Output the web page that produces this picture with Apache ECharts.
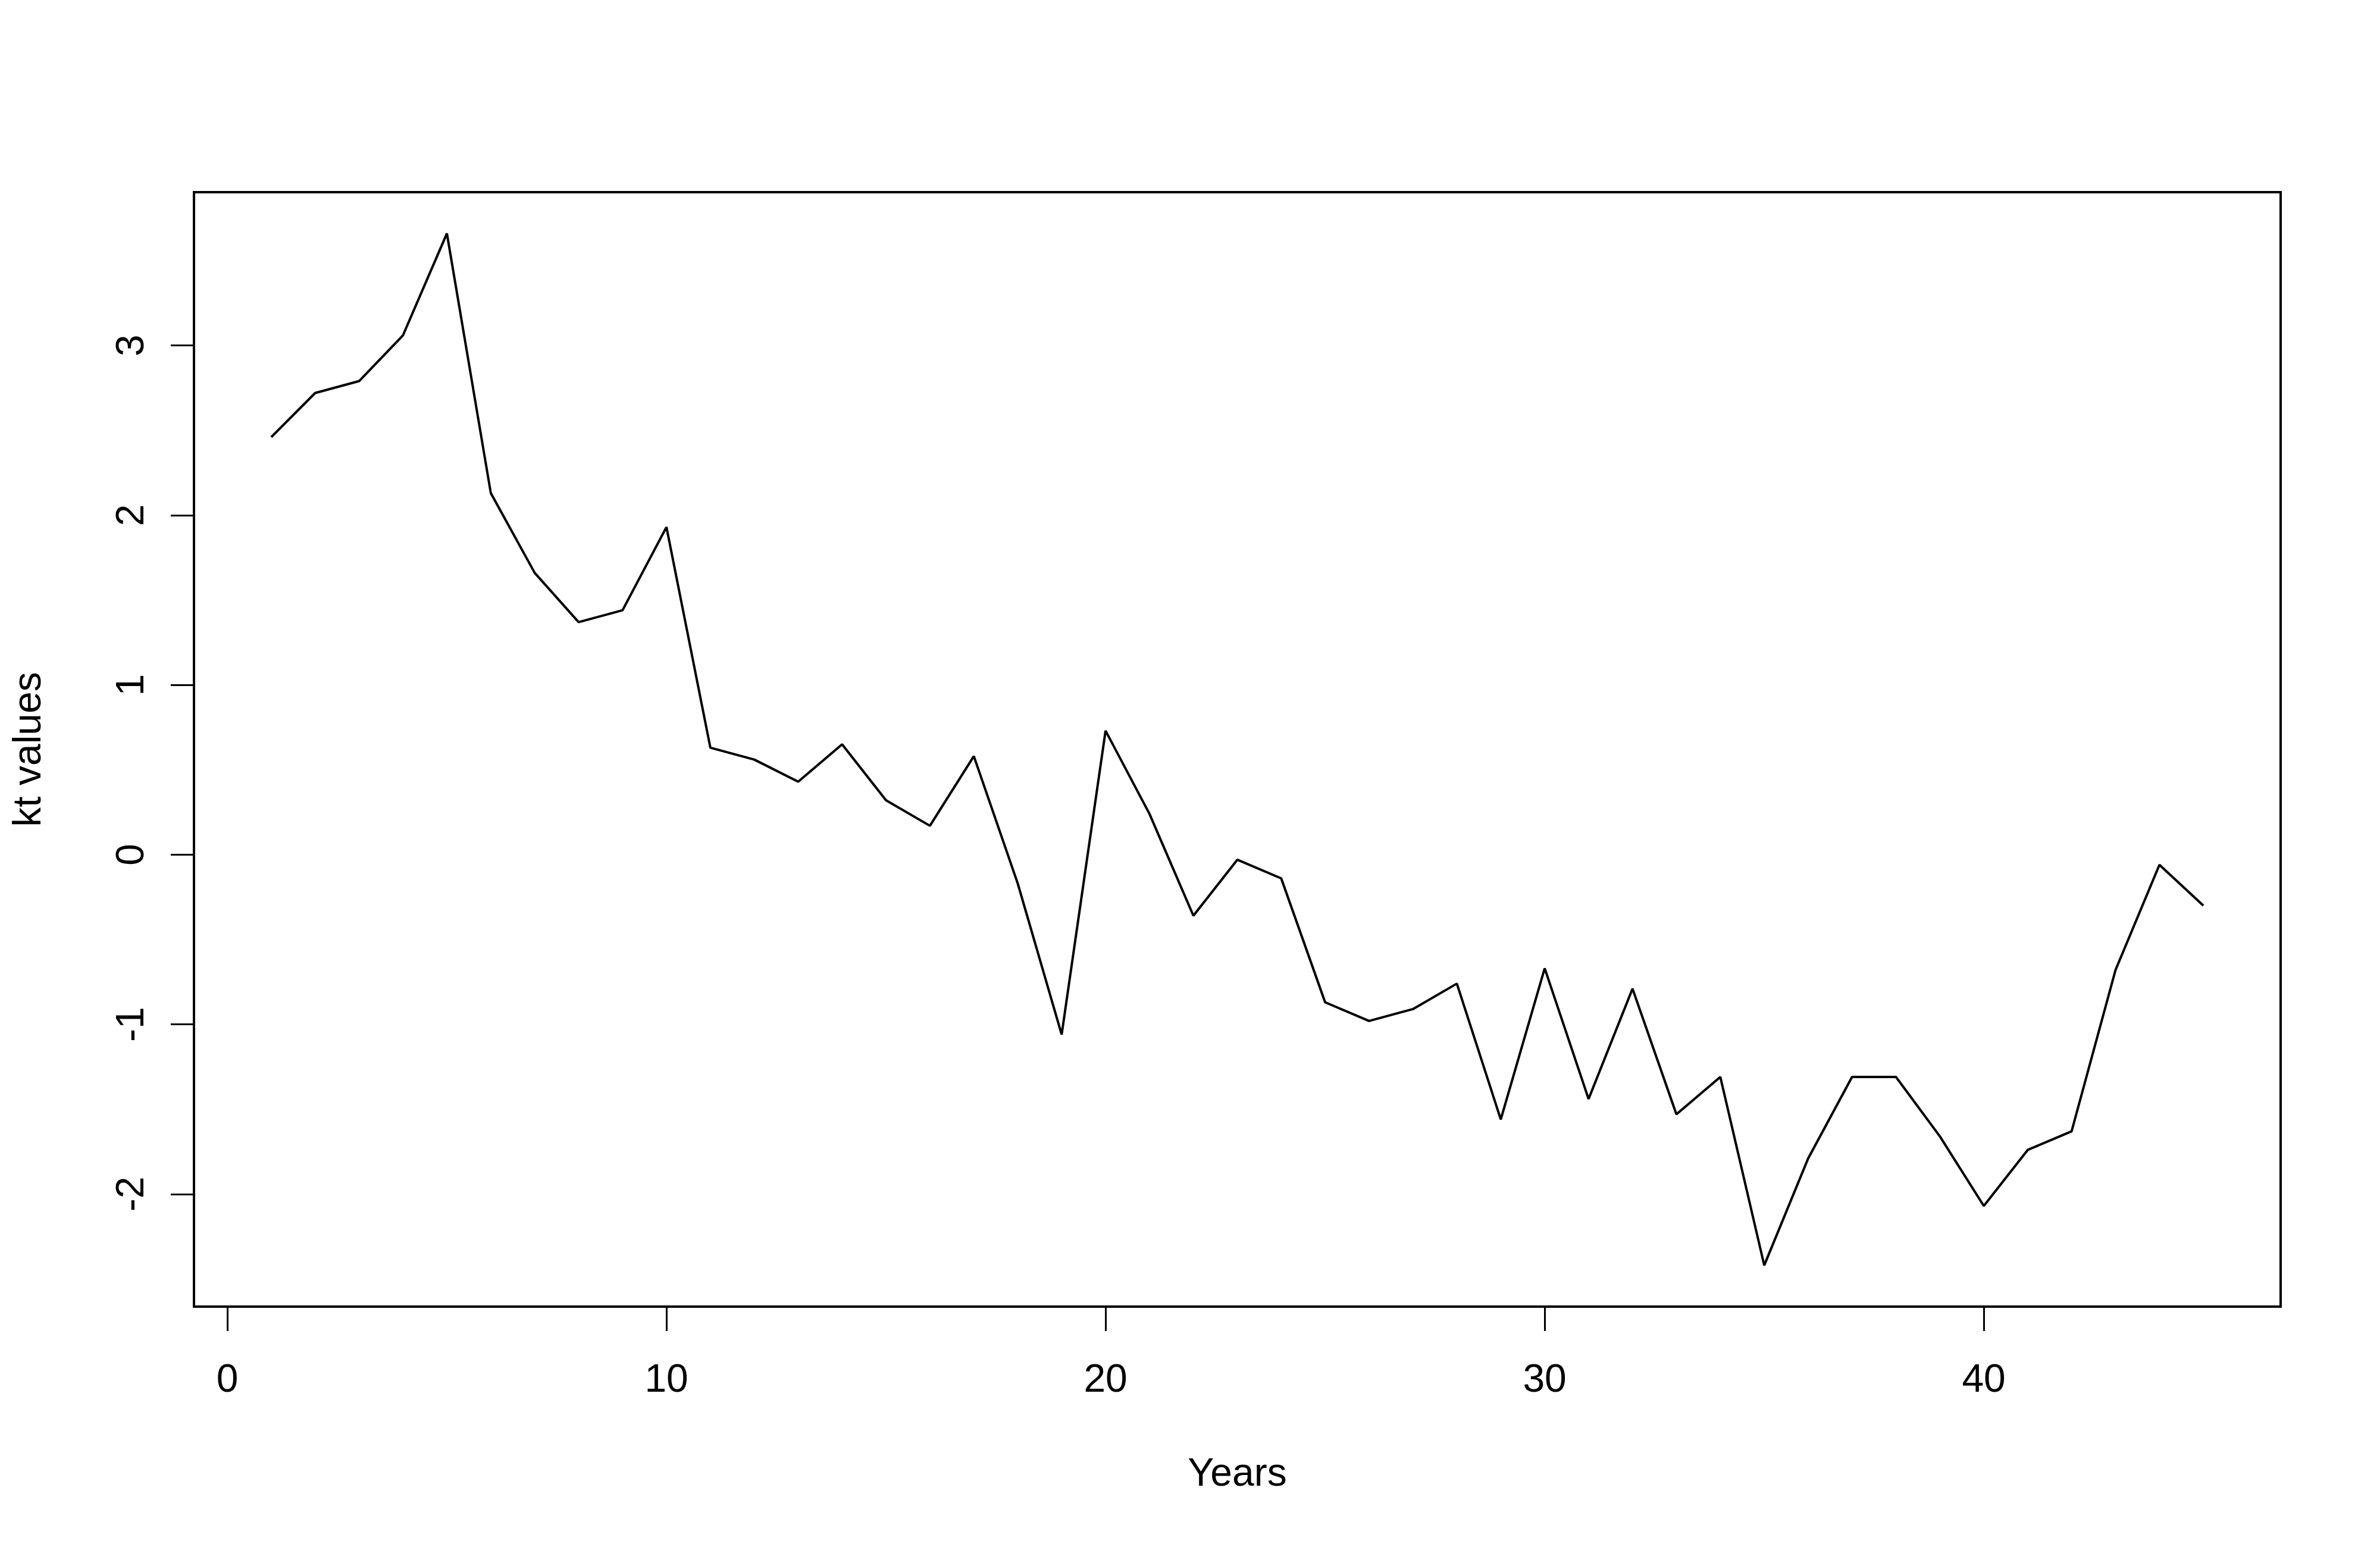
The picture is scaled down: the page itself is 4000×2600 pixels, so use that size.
<!DOCTYPE html>
<html>
<head>
<meta charset="utf-8">
<script src="https://cdn.jsdelivr.net/npm/echarts@6/dist/echarts.min.js"></script>
<style>
html,body{margin:0;padding:0;background:#fff;}
#c{width:4000px;height:2600px;}
</style>
</head>
<body>
<div id="c"></div>
<script>
const years = [1,2,3,4,5,6,7,8,9,10,11,12,13,14,15,16,17,18,19,20,21,22,23,24,25,26,27,28,29,30,31,32,33,34,35,36,37,38,39,40,41,42,43,44,45];
const ktValues = [2.46, 2.72, 2.79, 3.06, 3.66, 2.13, 1.66, 1.37, 1.44, 1.93, 0.63, 0.56, 0.43, 0.65, 0.32, 0.17, 0.58, -0.17, -1.06, 0.73, 0.24, -0.36, -0.03, -0.14, -0.87, -0.98, -0.91, -0.76, -1.56, -0.67, -1.44, -0.79, -1.53, -1.31, -2.42, -1.79, -1.31, -1.31, -1.66, -2.07, -1.74, -1.63, -0.68, -0.06, -0.30];
const xTicks = [0, 10, 20, 30, 40];
const yTicks = [-2, -1, 0, 1, 2, 3];
const xTitle = 'Years';
const yTitle = 'kt values';

function pad(lo, hi) { const r = hi - lo; return [lo - 0.04 * r, hi + 0.04 * r]; }
const xr = pad(Math.min(...years), Math.max(...years));
const yr = pad(Math.min(...ktValues), Math.max(...ktValues));

const font = '"Liberation Sans", Arial, sans-serif';
const chart = echarts.init(document.getElementById('c'), null, {renderer: 'canvas'});
chart.setOption({
  animation: false,
  backgroundColor: '#ffffff',
  grid: {left: 326, right: 167, top: 323, bottom: 404, show: true, borderColor: '#000', borderWidth: 4, backgroundColor: 'transparent'},
  xAxis: {
    type: 'value', min: xr[0], max: xr[1],
    name: xTitle, nameLocation: 'middle', nameGap: 250,
    nameTextStyle: {fontFamily: font, fontSize: 66, color: '#000'},
    axisLine: {show: true, onZero: false, lineStyle: {color: '#000', width: 4}},
    axisTick: {show: true, length: 41, customValues: xTicks, lineStyle: {color: '#000', width: 3}},
    axisLabel: {show: true, customValues: xTicks, margin: 92, fontFamily: font, fontSize: 66, color: '#000'},
    splitLine: {show: false}
  },
  yAxis: {
    type: 'value', min: yr[0], max: yr[1],
    name: yTitle, nameLocation: 'middle', nameGap: 243, nameRotate: 90,
    nameTextStyle: {fontFamily: font, fontSize: 66, color: '#000'},
    axisLine: {show: true, onZero: false, lineStyle: {color: '#000', width: 4}},
    axisTick: {show: true, length: 39, customValues: yTicks, lineStyle: {color: '#000', width: 3}},
    axisLabel: {show: true, customValues: yTicks, rotate: 90, margin: 70, fontFamily: font, fontSize: 66, color: '#000'},
    splitLine: {show: false}
  },
  series: [{
    type: 'line',
    data: years.map((y, i) => [y, ktValues[i]]),
    showSymbol: false,
    symbol: 'none',
    lineStyle: {color: '#000', width: 4},
    silent: true
  }]
});
</script>
</body>
</html>
